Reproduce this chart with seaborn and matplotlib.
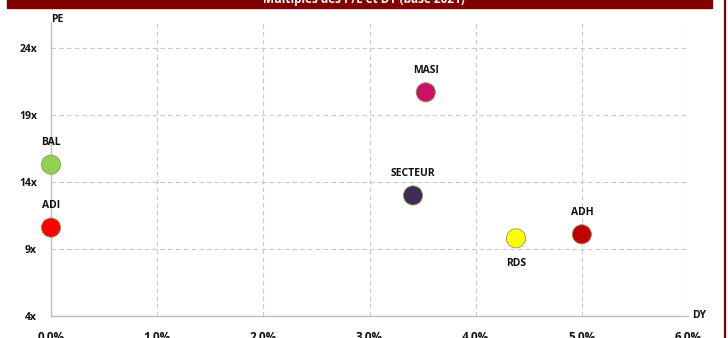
import pandas as pd
import matplotlib
matplotlib.use("Agg")
import matplotlib.pyplot as plt
import seaborn as sns
from matplotlib.ticker import FuncFormatter

# data
names = ["BAL", "ADI", "MASI", "SECTEUR", "RDS", "ADH"]
dy = [0.0, 0.0, 3.53, 3.41, 4.38, 5.00]      # dividend yield, %
pe = [15.3, 10.6, 20.7, 13.0, 9.8, 10.1]     # PE multiple
colors = ["#92D050", "#FF0000", "#CC1166", "#3F2D55", "#FFFF00", "#C00000"]

x_ticks = [0, 1, 2, 3, 4, 5, 6]
y_ticks = [4, 9, 14, 19, 24]
title = "Multiples des P/E et DY (base 2021)"

df = pd.DataFrame({"name": names, "DY": dy, "PE": pe})

sns.set_style("white")
plt.rcParams["font.family"] = ["Open Sans", "DejaVu Sans"]

fig = plt.figure(figsize=(7.28, 3.38), dpi=100)
ax = fig.add_axes([51 / 728, 1 - 316 / 338, (688 - 51) / 728, (316 - 22) / 338])

sns.scatterplot(data=df, x="DY", y="PE", hue="name", palette=colors,
                s=190, edgecolor="#8C9A5B", linewidth=0.6, legend=False,
                clip_on=False, zorder=5, ax=ax)

for n, x, y in zip(names, dy, pe):
    off = -18 if n == "RDS" else 16
    ax.annotate(n, (x, y), xytext=(0, off), textcoords="offset points",
                ha="center", va="center", fontsize=7.5, fontweight="bold",
                color="#111111")

ax.set_xlim(0, 6)
ax.set_ylim(4, 25.95)
ax.set_xticks(x_ticks)
ax.set_yticks(y_ticks)
ax.xaxis.set_major_formatter(FuncFormatter(lambda v, p: f"{v:.1f}%"))
ax.yaxis.set_major_formatter(FuncFormatter(lambda v, p: f"{v:g}x"))
ax.tick_params(axis="both", length=0, labelcolor="#111111")
ax.tick_params(axis="x", pad=11, labelsize=8.5)
ax.tick_params(axis="y", pad=10, labelsize=7.5)
for lab in ax.get_xticklabels() + ax.get_yticklabels():
    lab.set_fontweight("bold")
ax.grid(True, linestyle=(0, (4, 3)), color="#C8C8C8", linewidth=0.8)
ax.set_axisbelow(True)
for side in ["top", "right"]:
    ax.spines[side].set_visible(False)
for side in ["left", "bottom"]:
    ax.spines[side].set_color("#BFBFBF")
    ax.spines[side].set_linewidth(1)
ax.set_xlabel("")
ax.set_ylabel("")

# axis names
ax.text(0, 1.007, "PE", transform=ax.transAxes, fontsize=7.5,
        fontweight="bold", ha="left", va="center", color="#111111")
ax.text(1.006, 0, "DY", transform=ax.transAxes, fontsize=7.5,
        fontweight="bold", ha="left", va="center", color="#111111")

# title banner (cut at the top of the picture)
fig.patches.append(plt.Rectangle((7 / 728, 1 - 8 / 338), 705 / 728, 8 / 338,
                                 transform=fig.transFigure, color="#800000"))
fig.text(364 / 728, 1 + 1 / 338, title, color="white", fontsize=8.5,
         fontweight="bold", ha="center", va="center")
fig.add_artist(plt.Line2D([724.5 / 728, 724.5 / 728], [0, 1],
                          transform=fig.transFigure, color="#800000",
                          linewidth=1.6))

fig.savefig("out.png", dpi=100)
